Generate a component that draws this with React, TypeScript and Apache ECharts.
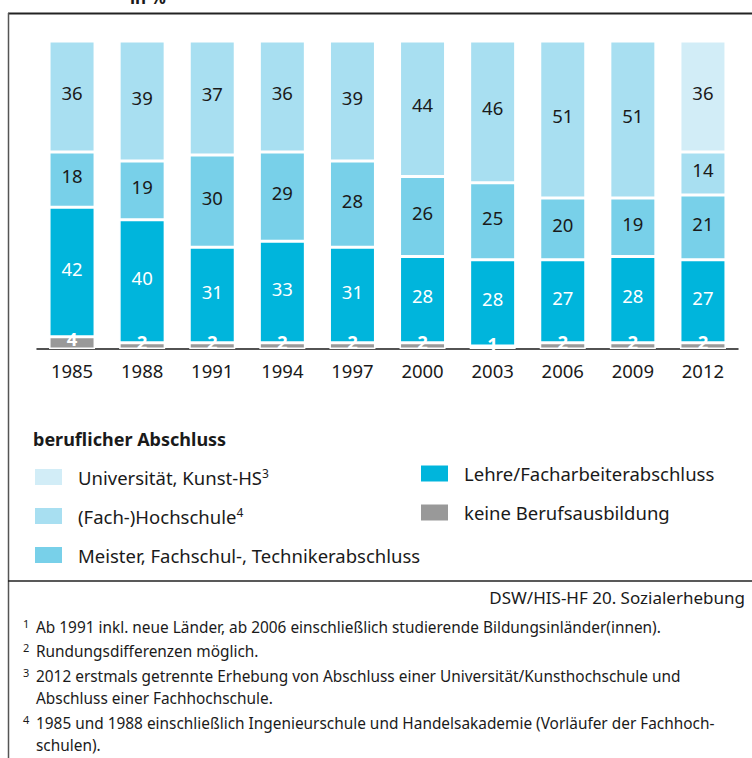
import React, { useEffect, useRef } from "react";
import * as echarts from "echarts";

const years = ["1985", "1988", "1991", "1994", "1997", "2000", "2003", "2006", "2009", "2012"];
const keineBerufsausbildung = [4, 2, 2, 2, 2, 2, 1, 2, 2, 2];
const lehre = [42, 40, 31, 33, 31, 28, 28, 27, 28, 27];
const meister = [18, 19, 30, 29, 28, 26, 25, 20, 19, 21];
const fachHochschule = [36, 39, 37, 36, 39, 44, 46, 51, 51, 14];
const universitaet = [null, null, null, null, null, null, null, null, null, 36];

const seriesNames = {
  keine: "keine Berufsausbildung",
  lehre: "Lehre/Facharbeiterabschluss",
  meister: "Meister, Fachschul-, Technikerabschluss",
  fach: "(Fach-)Hochschule",
  uni: "Universität, Kunst-HS",
};
const superscripts: Record<string, string> = {
  "Universität, Kunst-HS": "3",
  "(Fach-)Hochschule": "4",
};

const footnotes = [
  { sup: "1", lines: ["Ab 1991 inkl. neue Länder, ab 2006 einschließlich studierende Bildungsinländer(innen)."] },
  { sup: "2", lines: ["Rundungsdifferenzen möglich."] },
  { sup: "3", lines: ["2012 erstmals getrennte Erhebung von Abschluss einer Universität/Kunsthochschule und", "Abschluss einer Fachhochschule."] },
  { sup: "4", lines: ["1985 und 1988 einschließlich Ingenieurschule und Handelsakademie (Vorläufer der Fachhoch-", "schulen)."] },
];

const FONT = "Noto Sans";

export default function App() {
  const ref = useRef<HTMLDivElement>(null);
  useEffect(() => {
    if (!ref.current) return;
    const chart = echarts.init(ref.current, null, { renderer: "svg" });

    const mkSeries = (name: string, data: any[], color: string, labelColor: string, bold = false) => ({
      name,
      type: "bar",
      stack: "total",
      barWidth: 46,
      data,
      itemStyle: { color, borderColor: "#ffffff", borderWidth: 1.5 },
      label: {
        show: true,
        position: "inside",
        offset: [0, -4],
        color: labelColor,
        fontFamily: FONT,
        fontSize: 18.5,
        fontWeight: bold ? "bold" : "normal",
      },
      emphasis: { disabled: true },
    });

    const legendText = (name: string) =>
      superscripts[name] ? `{n|${name}}{s|${superscripts[name]}}` : `{n|${name}}`;
    const legendTextStyle = {
      fontFamily: FONT,
      fontSize: 18.5,
      color: "#1a1a1a",
      rich: {
        n: { fontFamily: FONT, fontSize: 18.5, color: "#1a1a1a", lineHeight: 20, padding: [0, 0, 0, 10] },
        s: { fontFamily: FONT, fontSize: 12, color: "#1a1a1a", lineHeight: 12, verticalAlign: "top" },
      },
    };

    const graphics: any[] = [
      { type: "text", left: 130, top: -11, style: { text: "in %", fontFamily: FONT, fontSize: 17, fontWeight: "bold", fill: "#1a1a1a" } },
      { type: "line", shape: { x1: 8, y1: 13.5, x2: 752, y2: 13.5 }, style: { stroke: "#222", lineWidth: 2 } },
      { type: "line", shape: { x1: 8.5, y1: 13, x2: 8.5, y2: 758 }, style: { stroke: "#555", lineWidth: 1.5 } },
      { type: "line", shape: { x1: 8, y1: 581, x2: 752, y2: 581 }, style: { stroke: "#222", lineWidth: 1.5 } },
      {
        type: "text",
        x: 33,
        y: 439,
        style: { text: "beruflicher Abschluss", fontFamily: FONT, fontSize: 18, fontWeight: "bold", fill: "#1a1a1a", verticalAlign: "middle" },
      },
      {
        type: "text",
        x: 745,
        y: 597,
        style: { text: "DSW/HIS-HF 20. Sozialerhebung", fontFamily: FONT, fontSize: 17, fill: "#1a1a1a", align: "right", verticalAlign: "middle" },
      },
    ];
    const lineYs = [627, 651, 676, 698, 723, 745];
    let li = 0;
    footnotes.forEach((f) => {
      graphics.push({
        type: "text",
        x: 23,
        y: lineYs[li] - 4,
        style: { text: f.sup, fontFamily: FONT, fontSize: 11, fill: "#1a1a1a", verticalAlign: "middle" },
      });
      f.lines.forEach((t) => {
        graphics.push({
          type: "text",
          x: 36,
          y: lineYs[li],
          style: { text: t, fontFamily: FONT, fontSize: 15.4, fill: "#1a1a1a", verticalAlign: "middle" },
        });
        li++;
      });
    });

    chart.setOption({
      animation: false,
      grid: { left: 37, right: 14, top: 41, height: 308, containLabel: false },
      xAxis: {
        type: "category",
        data: years,
        axisLine: { lineStyle: { color: "#1a1a1a", width: 1.5 } },
        axisTick: { show: false },
        axisLabel: { color: "#1a1a1a", fontFamily: FONT, fontSize: 18.5, margin: 12 },
      },
      yAxis: { type: "value", min: 0, max: 100, show: false },
      legend: [
        {
          orient: "vertical",
          left: 28,
          top: 462,
          itemWidth: 29,
          itemHeight: 18,
          itemGap: 19,
          icon: "rect",
          data: [seriesNames.uni, seriesNames.fach, seriesNames.meister],
          formatter: legendText,
          textStyle: legendTextStyle,
          selectedMode: false,
        },
        {
          orient: "vertical",
          left: 414,
          top: 458.5,
          itemWidth: 29,
          itemHeight: 18,
          itemGap: 19,
          icon: "rect",
          data: [seriesNames.lehre, seriesNames.keine],
          formatter: legendText,
          textStyle: legendTextStyle,
          selectedMode: false,
        },
      ],
      series: [
        mkSeries(seriesNames.keine, keineBerufsausbildung, "#999999", "#ffffff", true),
        mkSeries(seriesNames.lehre, lehre, "#00b5dc", "#ffffff"),
        mkSeries(seriesNames.meister, meister, "#78d0e9", "#1a1a1a"),
        mkSeries(seriesNames.fach, fachHochschule, "#a8dff1", "#1a1a1a"),
        mkSeries(seriesNames.uni, universitaet, "#d2edf7", "#1a1a1a"),
      ],
      graphic: graphics,
    });
    return () => chart.dispose();
  }, []);
  return <div ref={ref} style={{ position: "absolute", left: 0, top: 0, width: 752, height: 758 }} />;
}
